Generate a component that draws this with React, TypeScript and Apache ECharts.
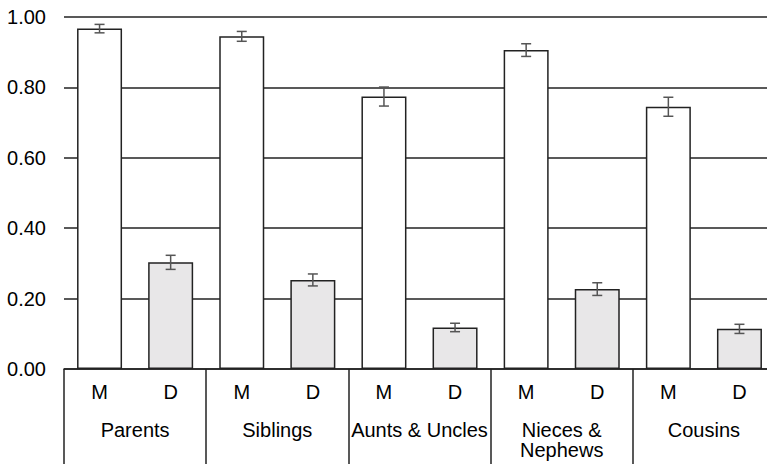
import React, { useEffect, useRef } from "react";
import * as echarts from "echarts";

const groups = ["Parents", "Siblings", "Aunts & Uncles", "Nieces &\nNephews", "Cousins"];
const subLabels = ["M", "D"];
const mValues = [0.967, 0.945, 0.774, 0.906, 0.745];
const dValues = [0.303, 0.253, 0.118, 0.227, 0.114];
const mErr = [0.012, 0.014, 0.027, 0.018, 0.027];
const dErr = [0.02, 0.017, 0.012, 0.018, 0.013];
const yTicks = [0, 0.2, 0.4, 0.6, 0.8, 1.0];

const FONT = "'Liberation Sans', Arial, Helvetica, sans-serif";

export default function App() {
  const ref = useRef<HTMLDivElement>(null);
  useEffect(() => {
    if (!ref.current) return;
    document.body.style.margin = "0";
    document.body.style.overflow = "hidden";
    const chart = echarts.init(ref.current, undefined, { renderer: "svg" });

    const cats: string[] = [];
    const barData: any[] = [];
    const errData: number[][] = [];
    groups.forEach((g, i) => {
      cats.push(subLabels[0] + i, subLabels[1] + i);
      barData.push({ value: mValues[i], itemStyle: { color: "#ffffff" } });
      barData.push({ value: dValues[i], itemStyle: { color: "#e8e7e8" } });
      errData.push([2 * i, mValues[i], mErr[i]]);
      errData.push([2 * i + 1, dValues[i], dErr[i]]);
    });

    chart.setOption({
      animation: false,
      grid: {
        left: 64,
        width: 711,
        top: 17,
        bottom: 95,
        containLabel: false,
        outerBoundsMode: "none",
      },
      xAxis: [
        {
          type: "category",
          data: cats,
          position: "bottom",
          axisLine: { show: true, lineStyle: { color: "#222", width: 1.5 } },
          axisTick: { show: false },
          axisLabel: {
            formatter: (v: string) => v[0],
            color: "#000",
            fontFamily: FONT,
            fontSize: 20,
            margin: 13,
            interval: 0,
          },
        },
        {
          type: "category",
          data: groups,
          position: "bottom",
          axisLine: { show: false },
          axisTick: {
            show: true,
            length: 100,
            interval: 0,
            lineStyle: { color: "#222", width: 1.5 },
          },
          axisLabel: {
            color: "#000",
            fontFamily: FONT,
            fontSize: 20,
            margin: 51,
            interval: 0,
            lineHeight: 20,
          },
        },
      ],
      yAxis: {
        type: "value",
        min: yTicks[0],
        max: yTicks[yTicks.length - 1],
        interval: 0.2,
        axisLine: { show: false },
        axisTick: { show: false },
        axisLabel: {
          formatter: (v: number) => v.toFixed(2),
          color: "#000",
          fontFamily: FONT,
          fontSize: 20,
          margin: 18,
        },
        splitLine: { show: true, lineStyle: { color: "#222", width: 1.5 } },
      },
      series: [
        {
          type: "bar",
          xAxisIndex: 0,
          data: barData,
          barWidth: 45,
          itemStyle: { borderColor: "#222", borderWidth: 1.5 },
        },
        {
          type: "custom",
          xAxisIndex: 0,
          data: errData,
          encode: { x: 0, y: 1 },
          z: 10,
          renderItem: (params: any, api: any) => {
            const x = api.value(0);
            const v = api.value(1);
            const e = api.value(2);
            const top = api.coord([x, v + e]);
            const bot = api.coord([x, v - e]);
            const hw = 5;
            const style = { stroke: "#555", lineWidth: 1.5 };
            return {
              type: "group",
              children: [
                { type: "line", shape: { x1: top[0], y1: top[1], x2: bot[0], y2: bot[1] }, style },
                { type: "line", shape: { x1: top[0] - hw, y1: top[1], x2: top[0] + hw, y2: top[1] }, style },
                { type: "line", shape: { x1: bot[0] - hw, y1: bot[1], x2: bot[0] + hw, y2: bot[1] }, style },
              ],
            };
          },
        },
      ],
    });
    return () => chart.dispose();
  }, []);
  return <div ref={ref} style={{ width: 767, height: 464 }} />;
}
